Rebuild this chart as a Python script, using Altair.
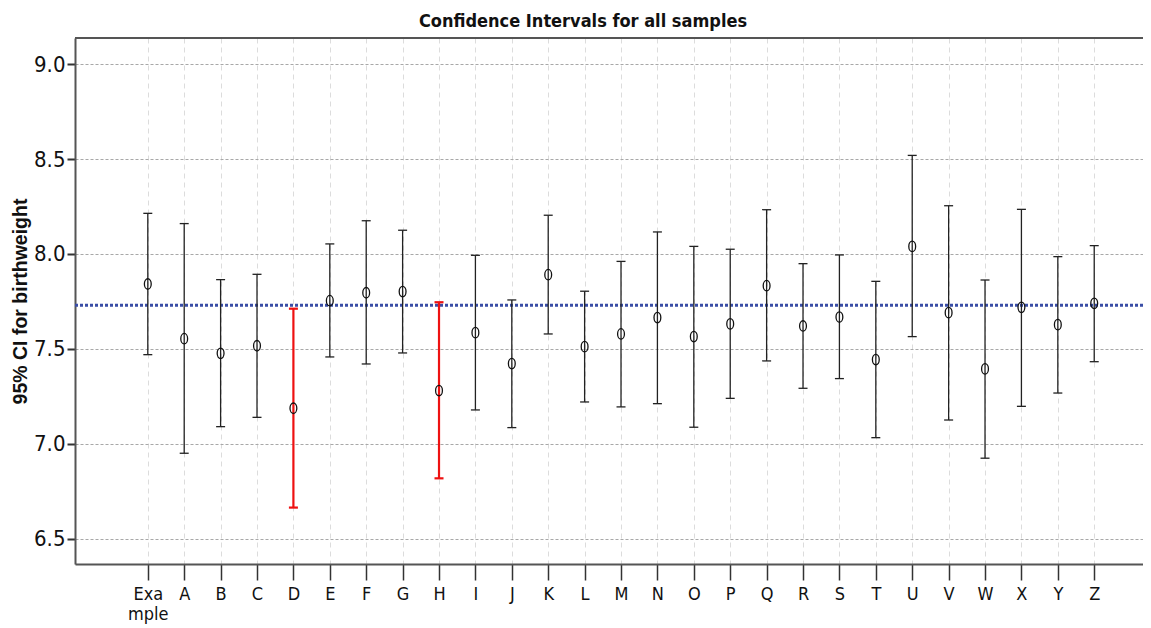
import json
import altair as alt
import pandas as pd

# ---- data ----
categories = ["Example", "A", "B", "C", "D", "E", "F", "G", "H", "I", "J", "K", "L",
              "M", "N", "O", "P", "Q", "R", "S", "T", "U", "V", "W", "X", "Y", "Z"]
tick_labels = ["Exa|mple", "A", "B", "C", "D", "E", "F", "G", "H", "I", "J", "K", "L",
               "M", "N", "O", "P", "Q", "R", "S", "T", "U", "V", "W", "X", "Y", "Z"]
means = [7.842, 7.554, 7.477, 7.517, 7.188, 7.754, 7.796, 7.802, 7.281, 7.586, 7.423, 7.891, 7.512,
         7.579, 7.665, 7.565, 7.632, 7.833, 7.621, 7.668, 7.444, 8.040, 7.691, 7.395, 7.719, 7.628, 7.740]
lows = [7.470, 6.951, 7.091, 7.140, 6.665, 7.458, 7.421, 7.479, 6.819, 7.179, 7.086, 7.579, 7.221,
        7.195, 7.212, 7.088, 7.240, 7.437, 7.293, 7.344, 7.033, 7.565, 7.126, 6.925, 7.198, 7.268, 7.433]
highs = [8.214, 8.160, 7.865, 7.893, 7.712, 8.053, 8.175, 8.125, 7.746, 7.993, 7.758, 8.204, 7.804,
         7.961, 8.116, 8.040, 8.025, 8.233, 7.949, 7.995, 7.856, 8.519, 8.254, 7.863, 8.235, 7.986, 8.044]
flagged = ["D", "H"]
reference_mean = 7.73
y_ticks = [6.5, 7.0, 7.5, 8.0, 8.5, 9.0]

df = pd.DataFrame({
    "idx": list(range(len(categories))),
    "cat": categories,
    "mean": means,
    "low": lows,
    "high": highs,
    "miss": ["yes" if c in flagged else "no" for c in categories],
})

FONT_N = "Liberation Sans Narrow, Arial Narrow, DejaVu Sans Condensed, Liberation Sans, sans-serif"
W, H = 1068, 526

label_expr = "split(" + json.dumps(tick_labels).replace('"', "'") + "[datum.value], '|')"

xscale = alt.Scale(domain=[-2, 27.34], nice=False, zero=False)
yscale = alt.Scale(domain=[6.368, 9.137], nice=False, zero=False)

x_axis = alt.Axis(
    values=list(range(len(categories))), labelExpr=label_expr, title=None,
    grid=True, gridColor="#dcdcdc", gridDash=[5, 4], gridWidth=1,
    tickSize=16, tickColor="#333", tickWidth=1.5, labelPadding=5,
    labelFont=FONT_N, labelFontSize=18, labelColor="#111", labelLineHeight=20,
    domainColor="#555", domainWidth=2, labelBaseline="top",
)
y_axis = alt.Axis(
    values=y_ticks, format=".1f", title="95% CI for birthweight",
    grid=True, gridColor="#a8a8a8", gridDash=[3, 2], gridWidth=1.2,
    tickSize=8, tickColor="#333", tickWidth=2, labelPadding=2,
    labelFont=FONT_N, labelFontSize=22, labelColor="#111",
    domainColor="#555", domainWidth=2,
    titleFont="Liberation Sans", titleFontSize=19.5, titleFontWeight="bold", titleColor="#111",
    titleAngle=270, titleX=-55, titleY=H / 2, titleAlign="center", titleBaseline="middle",
)

base = alt.Chart(df)

color_scale = alt.Scale(domain=["no", "yes"], range=["#222222", "#ee1111"])

bars = base.mark_rule().encode(
    x=alt.X("idx:Q", scale=xscale, axis=x_axis),
    y=alt.Y("low:Q", scale=yscale, axis=y_axis),
    y2="high:Q",
    color=alt.Color("miss:N", scale=color_scale, legend=None),
    strokeWidth=alt.StrokeWidth("miss:N", scale=alt.Scale(domain=["no", "yes"], range=[1.3, 2.2]), legend=None),
)
cap_lo = base.mark_rule(xOffset=-4.5, x2Offset=4.5).encode(
    x=alt.X("idx:Q", scale=xscale), x2="idx:Q",
    y=alt.Y("low:Q", scale=yscale),
    color=alt.Color("miss:N", scale=color_scale, legend=None),
    strokeWidth=alt.StrokeWidth("miss:N", scale=alt.Scale(domain=["no", "yes"], range=[1.6, 2.6]), legend=None),
)
cap_hi = base.mark_rule(xOffset=-4.5, x2Offset=4.5).encode(
    x=alt.X("idx:Q", scale=xscale), x2="idx:Q",
    y=alt.Y("high:Q", scale=yscale),
    color=alt.Color("miss:N", scale=color_scale, legend=None),
    strokeWidth=alt.StrokeWidth("miss:N", scale=alt.Scale(domain=["no", "yes"], range=[1.6, 2.6]), legend=None),
)
pts = base.mark_point(
    shape="M0,-1 A0.65,1 0 1,1 0,1 A0.65,1 0 1,1 0,-1 Z",
    filled=False, size=110, color="#111", strokeWidth=1.3, opacity=1,
).encode(
    x=alt.X("idx:Q", scale=xscale),
    y=alt.Y("mean:Q", scale=yscale),
)
ref = alt.Chart(pd.DataFrame({"v": [reference_mean]})).mark_rule(
    color="#3a4ea6", strokeWidth=3, strokeDash=[3, 2]
).encode(y=alt.Y("v:Q", scale=yscale))
topline = alt.Chart(pd.DataFrame({"v": [0]})).mark_rule(color="#555", strokeWidth=2).encode(
    x=alt.value(0), x2=alt.value(W), y=alt.value(0)
)

chart = alt.layer(ref, bars, cap_lo, cap_hi, pts, topline).properties(
    width=W, height=H,
    title=alt.TitleParams(
        "Confidence Intervals for all samples", font=FONT_N, fontSize=18,
        fontWeight="bold", color="#111", anchor="middle", dx=-26, offset=6,
    ),
    autosize=alt.AutoSizeParams(type="none"),
    padding={"left": 67, "top": 30, "right": 0, "bottom": 60},
).configure_view(stroke=None).configure(background="white")

chart.save("out.html", embed_options={"renderer": "svg", "actions": False})
